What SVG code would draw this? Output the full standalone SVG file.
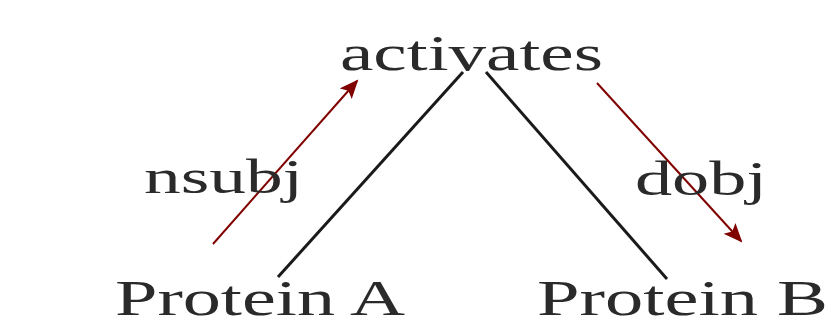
<svg xmlns="http://www.w3.org/2000/svg" width="837" height="330" viewBox="0 0 837 330">
  <style>
    .lbl { font-family: "Liberation Serif", "DejaVu Serif", serif; fill: #2a2a2a; }
    .word { font-size: 50px; }
    .rel { font-size: 48px; }
    .tree { stroke: #1a1a1a; stroke-width: 3; fill: none; }
    .dep { stroke: #800000; stroke-width: 2; fill: none; marker-end: url(#head); }
  </style>
  <defs>
    <marker id="head" markerUnits="userSpaceOnUse" markerWidth="22" markerHeight="18" refX="17" refY="8" orient="auto">
      <path d="M0,0 L19,8 L0,16 L4,8 Z" fill="#800000"/>
    </marker>
  </defs>
  <rect width="837" height="330" fill="#fff"/>

  <!-- tree branches and dependency arrows -->
  <g id="connectors">
    <line class="tree" x1="278" y1="277" x2="463" y2="72"/>
    <line class="tree" x1="486" y1="72" x2="667" y2="279"/>
    <line class="dep" x1="213" y1="244" x2="357" y2="81"/>
    <line class="dep" x1="597" y1="83" x2="741" y2="241"/>
  </g>

  <g id="activates">
    <text class="lbl word" x="340" y="70" textLength="263" lengthAdjust="spacingAndGlyphs">activates</text>
  </g>
  <g id="protein-a">
    <text class="lbl word" x="115" y="315" textLength="290" lengthAdjust="spacingAndGlyphs">Protein A</text>
  </g>
  <g id="protein-b">
    <text class="lbl word" x="537" y="315" textLength="291" lengthAdjust="spacingAndGlyphs">Protein B</text>
  </g>
  <g id="nsubj">
    <text class="lbl rel" x="144" y="193" textLength="159" lengthAdjust="spacingAndGlyphs">nsubj</text>
  </g>
  <g id="dobj">
    <text class="lbl rel" x="635" y="195" textLength="132" lengthAdjust="spacingAndGlyphs">dobj</text>
  </g>
</svg>
